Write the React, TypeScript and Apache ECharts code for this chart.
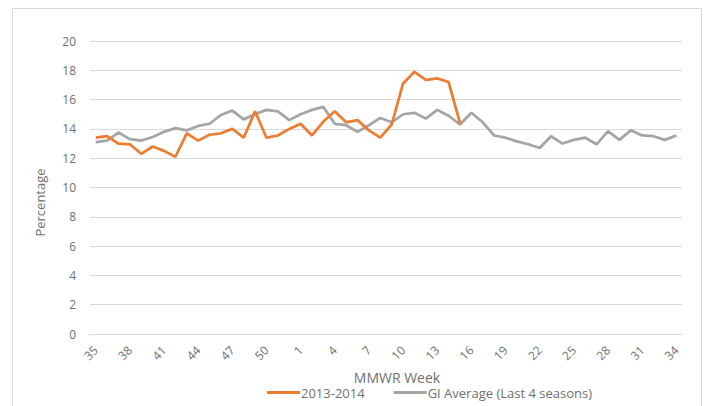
import React, { useEffect, useRef } from "react";
import * as echarts from "echarts";

const weeks: string[] = [
  "35","36","37","38","39","40","41","42","43","44","45","46","47","48","49","50","51","52",
  "1","2","3","4","5","6","7","8","9","10","11","12","13","14","15","16","17","18","19","20",
  "21","22","23","24","25","26","27","28","29","30","31","32","33","34",
];

const season2013: (number | null)[] = [
  13.4, 13.5, 13.0, 12.95, 12.3, 12.8, 12.5, 12.1, 13.7, 13.2, 13.6, 13.7, 14.0, 13.4,
  15.2, 13.4, 13.55, 14.0, 14.35, 13.55, 14.5, 15.2, 14.45, 14.6, 13.9, 13.4, 14.3,
  17.1, 17.9, 17.35, 17.45, 17.2, 14.4,
  null, null, null, null, null, null, null, null, null, null, null, null, null, null,
  null, null, null, null, null,
];

const giAverage: number[] = [
  13.1, 13.2, 13.75, 13.3, 13.2, 13.45, 13.8, 14.05, 13.9, 14.2, 14.35, 14.95, 15.25,
  14.65, 15.0, 15.3, 15.2, 14.6, 15.0, 15.3, 15.5, 14.35, 14.25, 13.8, 14.25, 14.75,
  14.45, 15.0, 15.1, 14.7, 15.3, 14.9, 14.3, 15.1, 14.45, 13.55, 13.4, 13.15, 12.95,
  12.7, 13.5, 13.0, 13.25, 13.4, 12.95, 13.85, 13.25, 13.9, 13.55, 13.5, 13.25, 13.55,
];

const seriesNames = ["2013-2014", "GI Average (Last 4 seasons)"];
const FONT = "'Open Sans', 'Liberation Sans', sans-serif";
const TEXT = "#707070";

export default function App() {
  const ref = useRef<HTMLDivElement>(null);
  useEffect(() => {
    if (!ref.current) return;
    const chart = echarts.init(ref.current, undefined, { renderer: "svg" });
    chart.setOption({
      animation: false,
      backgroundColor: "#ffffff",
      textStyle: { fontFamily: FONT, color: TEXT },
      graphic: [
        {
          type: "rect",
          shape: { x: 12.5, y: 8.5, width: 689, height: 400 },
          style: { fill: "none", stroke: "#d9d9d9", lineWidth: 1 },
          silent: true,
        },
      ],
      grid: { left: 90, right: 27, top: 41, bottom: 72 },
      legend: {
        left: 262,
        top: 381,
        itemWidth: 33,
        itemHeight: 3,
        itemGap: 29,
        icon: "rect",
        textStyle: { fontFamily: FONT, color: TEXT, fontSize: 13, padding: [0, 0, 0, -4] },
        data: seriesNames,
      },
      xAxis: [
        {
          type: "category",
          data: weeks,
          boundaryGap: true,
          name: "MMWR Week",
          nameLocation: "middle",
          nameGap: 36,
          nameTextStyle: { fontFamily: FONT, color: TEXT, fontSize: 14, padding: [0, 0, 0, 22] },
          axisLine: { show: true, lineStyle: { color: "#d9d9d9" } },
          axisTick: { show: false },
          axisLabel: {
            rotate: 45,
            interval: 2,
            color: TEXT,
            fontFamily: FONT,
            fontSize: 12,
            margin: 14,
          },
        },
      ],
      yAxis: {
        type: "value",
        min: 0,
        max: 20,
        interval: 2,
        name: "Percentage",
        nameLocation: "middle",
        nameGap: 44,
        nameTextStyle: { fontFamily: FONT, color: TEXT, fontSize: 13, padding: [0, 30, 0, 0] },
        axisLine: { show: false },
        axisTick: { show: false },
        axisLabel: { color: TEXT, fontFamily: FONT, fontSize: 12, margin: 14 },
        splitLine: { lineStyle: { color: "#d9d9d9", width: 1 } },
      },
      series: [
        {
          name: seriesNames[0],
          type: "line",
          data: season2013,
          showSymbol: false,
          symbol: "none",
          lineStyle: { color: "#ED7D31", width: 2.75 },
          itemStyle: { color: "#ED7D31" },
          z: 3,
        },
        {
          name: seriesNames[1],
          type: "line",
          data: giAverage,
          showSymbol: false,
          symbol: "none",
          lineStyle: { color: "#A5A5A5", width: 2.75 },
          itemStyle: { color: "#A5A5A5" },
          z: 2,
        },
      ],
    });
    return () => chart.dispose();
  }, []);
  return (
    <div
      ref={ref}
      style={{ position: "fixed", left: 0, top: 0, width: 709, height: 406 }}
    />
  );
}
